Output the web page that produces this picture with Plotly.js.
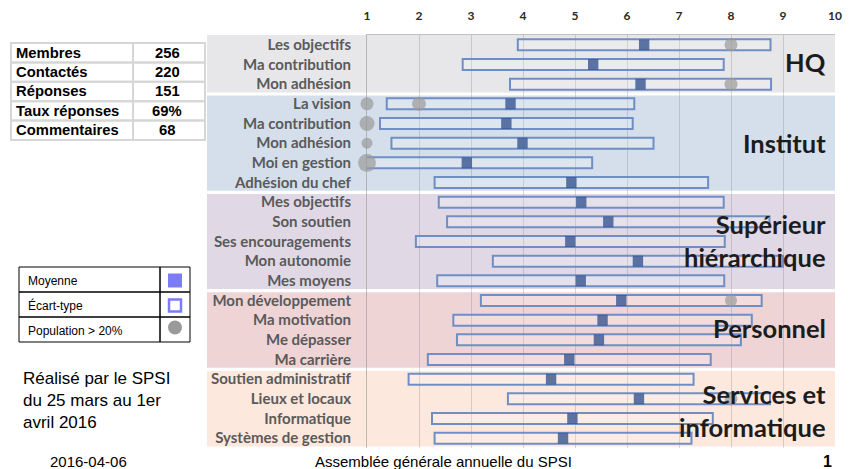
<!DOCTYPE html>
<html>
<head>
<meta charset="utf-8">
<script src="https://cdn.plot.ly/plotly-3.0.1.min.js"></script>
<style>html,body{margin:0;padding:0;background:#fff;}#chart{width:849px;height:469px;}</style>
</head>
<body>
<div id="chart"></div>
<script>
// ---- data ----
const categories = ["Les objectifs","Ma contribution","Mon adhésion",
  "La vision","Ma contribution","Mon adhésion","Moi en gestion","Adhésion du chef",
  "Mes objectifs","Son soutien","Ses encouragements","Mon autonomie","Mes moyens",
  "Mon développement","Ma motivation","Me dépasser","Ma carrière",
  "Soutien administratif","Lieux et locaux","Informatique","Systèmes de gestion"];
const means = [6.33,5.35,6.26, 3.76,3.68,3.99,2.92,4.93, 5.12,5.64,4.91,6.21,5.11, 5.89,5.53,5.46,4.89, 4.54,6.23,4.95,4.77];
const sds   = [2.43,2.51,2.51, 2.38,2.43,2.52,2.41,2.63, 2.74,3.10,2.97,2.79,2.76, 2.70,2.87,2.73,2.72, 2.74,2.52,2.70,2.47];
const popRow   = [0,2,3,3,4,5,6,13,18];
const popValue = [8,8,1,2,1,1,1,8,8];
const popSize  = [13,13,13,14,15,11,18,12,13];
const groupNames = ["HQ","Institut","Supérieur<br>hiérarchique","Personnel","Services et<br>informatique"];
const groupStart = [0,3,8,13,17];
const groupEnd   = [2,7,12,16,20];
const xTicks = [1,2,3,4,5,6,7,8,9,10];
const statLabels = ["Membres","Contactés","Réponses","Taux réponses","Commentaires"];
const statValues = ["256","220","151","69%","68"];
const legendLabels = ["Moyenne","Écart-type","Population > 20%"];
const noteLines = ["Réalisé par le SPSI","du 25 mars au 1er","avril 2016"];
const footerDate = "2016-04-06";
const footerTitle = "Assemblée générale annuelle du SPSI";
const pageNumber = "1";

// ---- styles ----
const W = 849, H = 469;
const px = x => x / W;
const py = y => 1 - y / H;
const groupColors = ["#e7e7ea","#d5dfeb","#e0d9e5","#efd4d5","#fce8dd"];
const rows = categories.map((_, i) => i);

const traces = [
  { type: 'bar', orientation: 'h', y: rows, base: means.map((m,i)=>m - sds[i]),
    x: sds.map(s => 2*s), width: 0.56,
    marker: { color: 'rgba(255,255,255,0.2)', line: { color: '#6f8ec6', width: 2 } },
    hoverinfo: 'skip', showlegend: false },
  { type: 'bar', orientation: 'h', y: rows, base: means.map(m => m - 0.1),
    x: means.map(() => 0.2), width: 0.56,
    marker: { color: 'rgba(55,85,145,0.8)', line: { width: 0 } },
    hoverinfo: 'skip', showlegend: false },
  { type: 'scatter', mode: 'markers', x: popValue, y: popRow, cliponaxis: false,
    marker: { color: '#9a9a9a', size: popSize, line: { width: 0 } },
    hoverinfo: 'skip', showlegend: false }
];

const shapes = [];
const annotations = [];

// bands
groupNames.forEach((g, k) => {
  shapes.push({ type: 'rect', layer: 'below', xref: 'paper', yref: 'y',
    x0: px(207), x1: px(835), y0: groupStart[k] - 0.5 + (k ? 0.08 : 0), y1: groupEnd[k] + 0.5 - 0.08,
    fillcolor: groupColors[k], line: { width: 0 } });
});
// section titles
const titleRows = [0.87, 5, 9.95, 14.4, 18.6];
groupNames.forEach((g, k) => {
  annotations.push({ xref: 'paper', yref: 'y', x: px(828), y: titleRows[k], xanchor: 'right', yanchor: 'middle',
    text: '<b>' + g + '</b>', showarrow: false, align: 'right',
    font: { family: 'Lato, "Open Sans", sans-serif', size: 25.5, color: '#1c1c1c' } });
});

// stats table
const tX0 = 11, tX1 = 205, tCol = 133, tY0 = 43, tRowH = 19.4;
statLabels.forEach((lab, i) => {
  const y0 = tY0 + i*tRowH, y1 = y0 + tRowH;
  shapes.push({ type: 'rect', xref: 'paper', yref: 'paper', x0: px(tX0), x1: px(tCol), y0: py(y0), y1: py(y1),
    line: { color: '#d6d6d6', width: 2 }, fillcolor: 'rgba(0,0,0,0)' });
  shapes.push({ type: 'rect', xref: 'paper', yref: 'paper', x0: px(tCol), x1: px(tX1), y0: py(y0), y1: py(y1),
    line: { color: '#d6d6d6', width: 2 }, fillcolor: 'rgba(0,0,0,0)' });
  annotations.push({ xref: 'paper', yref: 'paper', x: px(tX0 + 3), y: py(y0 + tRowH/2), xanchor: 'left', yanchor: 'middle',
    text: '<b>' + lab + '</b>', showarrow: false,
    font: { family: 'Liberation Sans, Arial, sans-serif', size: 14.8, color: '#000' } });
  annotations.push({ xref: 'paper', yref: 'paper', x: px(167), y: py(y0 + tRowH/2), xanchor: 'center', yanchor: 'middle',
    text: '<b>' + statValues[i] + '</b>', showarrow: false,
    font: { family: 'Liberation Sans, Arial, sans-serif', size: 14.8, color: '#000' } });
});

// legend table
const lX0 = 19, lX1 = 190, lCol = 160, lY0 = 267, lRowH = 25;
legendLabels.forEach((lab, i) => {
  const y0 = lY0 + i*lRowH, y1 = y0 + lRowH, yc = (y0 + y1)/2;
  shapes.push({ type: 'rect', xref: 'paper', yref: 'paper', x0: px(lX0), x1: px(lCol), y0: py(y0), y1: py(y1),
    line: { color: '#000', width: 1 }, fillcolor: 'rgba(0,0,0,0)' });
  shapes.push({ type: 'rect', xref: 'paper', yref: 'paper', x0: px(lCol), x1: px(lX1), y0: py(y0), y1: py(y1),
    line: { color: '#000', width: 1 }, fillcolor: 'rgba(0,0,0,0)' });
  annotations.push({ xref: 'paper', yref: 'paper', x: px(lX0 + 7), y: py(yc + 1), xanchor: 'left', yanchor: 'middle',
    text: lab, showarrow: false, font: { family: 'Liberation Sans, Arial, sans-serif', size: 12, color: '#000' } });
  const cx = 175, s = 7;
  if (i === 0) shapes.push({ type: 'rect', xref: 'paper', yref: 'paper', x0: px(cx-s), x1: px(cx+s), y0: py(yc-s+1), y1: py(yc+s+1),
    fillcolor: '#7b7cf6', line: { width: 0 } });
  if (i === 1) shapes.push({ type: 'rect', xref: 'paper', yref: 'paper', x0: px(cx-s+1), x1: px(cx+s-1), y0: py(yc-s+2), y1: py(yc+s),
    fillcolor: '#fff', line: { color: '#7b7cf6', width: 2.5 } });
  if (i === 2) shapes.push({ type: 'circle', xref: 'paper', yref: 'paper', x0: px(cx-s), x1: px(cx+s), y0: py(yc-s-2), y1: py(yc+s-2),
    fillcolor: '#9a9a9a', line: { width: 0 } });
});

// note
annotations.push({ xref: 'paper', yref: 'paper', x: px(21), y: py(400), xanchor: 'left', yanchor: 'middle',
  text: noteLines.join('<br>'), showarrow: false, align: 'left',
  font: { family: 'Liberation Sans, Arial, sans-serif', size: 17, color: '#000' } });
// footer
annotations.push({ xref: 'paper', yref: 'paper', x: px(88), y: py(461), xanchor: 'center', yanchor: 'middle',
  text: footerDate, showarrow: false, font: { family: 'Liberation Sans, Arial, sans-serif', size: 15, color: '#000' } });
annotations.push({ xref: 'paper', yref: 'paper', x: px(443), y: py(461), xanchor: 'center', yanchor: 'middle',
  text: footerTitle, showarrow: false, font: { family: 'Liberation Sans, Arial, sans-serif', size: 15, color: '#000' } });
annotations.push({ xref: 'paper', yref: 'paper', x: px(834), y: py(461), xanchor: 'right', yanchor: 'middle',
  text: '<b>' + pageNumber + '</b>', showarrow: false, font: { family: 'Liberation Sans, Arial, sans-serif', size: 16, color: '#000' } });

const layout = {
  width: W, height: H,
  margin: { l: 0, r: 0, t: 0, b: 0, pad: 0 },
  paper_bgcolor: '#ffffff', plot_bgcolor: 'rgba(0,0,0,0)',
  barmode: 'overlay', showlegend: false,
  xaxis: { domain: [px(367), px(835)], range: [1, 10], side: 'top', tickvals: xTicks,
    showgrid: true, gridcolor: 'rgba(120,120,120,0.28)', gridwidth: 1, zeroline: false,
    showline: true, linecolor: 'rgba(150,150,150,0.6)', linewidth: 1,
    ticks: 'outside', ticklen: 9, tickcolor: 'rgba(0,0,0,0)', fixedrange: true,
    tickfont: { family: 'Lato, "Open Sans", sans-serif', size: 12, color: '#2a2a2a', weight: 'bold' } },
  yaxis: { domain: [py(448), py(35)], range: [20.5, -0.5], tickvals: rows,
    ticktext: categories.map(c => '<b>' + c + '</b>'),
    showgrid: false, zeroline: false, showline: true, linecolor: 'rgba(150,150,150,0.6)', linewidth: 1,
    ticks: 'outside', ticklen: 12, tickcolor: 'rgba(0,0,0,0)', fixedrange: true,
    tickfont: { family: 'Lato, "Open Sans", sans-serif', size: 15, color: '#5a5a5a' } },
  shapes: shapes,
  annotations: annotations
};

Plotly.newPlot('chart', traces, layout, { staticPlot: true, displayModeBar: false });
</script>
</body>
</html>
